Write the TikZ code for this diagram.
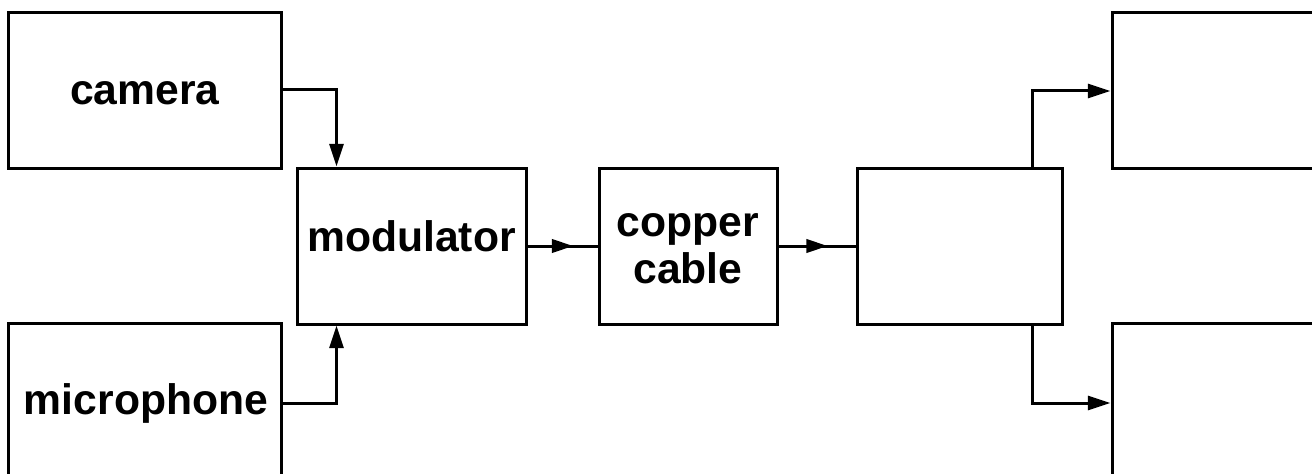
\documentclass[tikz,border=0pt]{standalone}
\usepackage{fontspec}
\setmainfont{Liberation Sans}
\usetikzlibrary{arrows.meta,fit,calc,decorations.markings}
\tikzset{
  box/.style={draw=black, line width=2.25pt, inner sep=0pt, fill=none},
  lbl/.style={font=\bfseries\fontsize{32}{38}\selectfont, inner sep=0pt, anchor=base},
  arr/.style={line width=2.25pt, -{Triangle[length=17pt,width=10.5pt]}},
  midarr/.style={line width=2.25pt, postaction={decorate}, decoration={markings, mark=at position 0.5 with {\arrow[xshift=8pt]{Triangle[length=16pt,width=10pt]}}}}
}
\begin{document}
\begin{tikzpicture}[x=0.75pt,y=-0.75pt]
\useasboundingbox (0,0) rectangle (1312,474);
\clip (0,0) rectangle (1312,474);
\node[box, fit={(8,13)(281,168)}] (camera) {};
\node[box, fit={(8,323)(281,520)}] (micbox) {};
\node[box, fit={(297,168)(526,324)}] (modulator) {};
\node[box, fit={(599,168)(777,324)}] (copper) {};
\node[box, fit={(857,168)(1062,324)}] (demux) {};
\node[box, fit={(1112,13)(1360,168)}] (out1) {};
\node[box, fit={(1112,323)(1360,520)}] (out2) {};
\node[lbl] (tcam) at (145,105) {camera};
\node[lbl] (tmic) at (146,414) {microphone};
\node[lbl] (tmod) at (411.5,251) {modulator};
\node[lbl] (tcop) at (688,236) {copper};
\node[lbl] (tcab) at (688,283) {cable};
\coordinate (ct) at ($(modulator.north west)+(41,0)$);
\coordinate (cb) at ($(modulator.south west)+(41,0)$);
\coordinate (mt) at ($(demux.north west)+(177,0)$);
\coordinate (mb) at ($(demux.south west)+(177,0)$);
\draw[arr] (camera.east |- 0,90) -| (ct);
\draw[arr] (micbox.east |- 0,403) -| (cb);
\draw[midarr] (modulator.east) -- (copper.west);
\draw[midarr] (copper.east) -- (demux.west);
\draw[arr] (mt) |- (out1.west |- 0,91);
\draw[arr] (mb) |- (out2.west |- 0,403);
\end{tikzpicture}
\end{document}
